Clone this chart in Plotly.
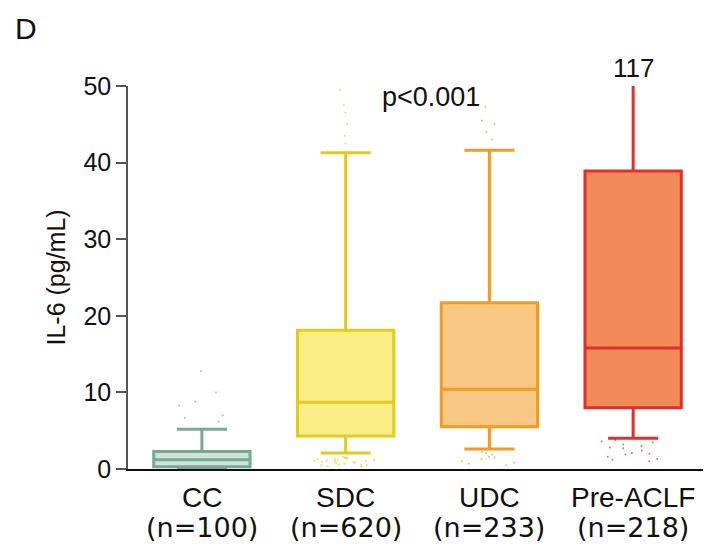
import plotly.graph_objects as go

categories = ["CC", "SDC", "UDC", "Pre-ACLF"]
n_labels = ["(n=100)", "(n=620)", "(n=233)", "(n=218)"]
q1 = [0.3, 4.3, 5.5, 8.0]
median = [1.2, 8.7, 10.4, 15.8]
q3 = [2.3, 18.1, 21.7, 38.9]
lower = [0.1, 2.1, 2.6, 4.0]
upper = [5.2, 41.3, 41.6, 117]

outliers = [
    [6.2, 6.7, 7.0, 8.3, 8.8, 10.0, 12.8],
    [0.3, 0.5, 0.6, 0.8, 0.9, 1.0, 1.1, 1.2, 1.3, 1.4, 1.5, 1.6, 0.4, 0.7, 1.0, 1.3,
     0.5, 0.9, 1.2, 1.5, 0.6, 0.8, 1.1, 1.4, 42.5, 43.5, 45.0, 46.5, 47.5, 49.5],
    [0.5, 0.8, 1.0, 1.3, 1.6, 1.9, 2.1, 2.3, 0.7, 1.5, 43.0, 44.0, 45.0, 45.5, 47.3],
    [1.0, 1.3, 1.6, 1.9, 2.1, 2.4, 2.7, 3.0, 3.2, 3.5, 3.8, 1.2, 2.0, 2.8, 3.6],
]

line_colors = ["#78a898", "#e3cb1c", "#f29b20", "#e0302b"]
fill_colors = ["#cfe3d8", "#fcee86", "#f9c784", "#f28a58"]

fig = go.Figure()

for i, c in enumerate(categories):
    fig.add_trace(go.Box(
        x=[c], q1=[q1[i]], median=[median[i]], q3=[q3[i]],
        lowerfence=[lower[i]], upperfence=[upper[i]],
        fillcolor=fill_colors[i], line=dict(color=line_colors[i], width=3),
        width=0.67, whiskerwidth=0.52, boxpoints=False, hoverinfo="skip",
        showlegend=False,
    ))
    fig.add_trace(go.Box(
        x=[c] * len(outliers[i]), y=outliers[i],
        boxpoints="all", jitter=1.0, pointpos=0,
        marker=dict(color=line_colors[i], size=2, opacity=0.7),
        fillcolor="rgba(0,0,0,0)", line=dict(color="rgba(0,0,0,0)", width=0),
        width=0.45, hoverinfo="skip", showlegend=False,
    ))

font_main = "Liberation Sans, Arial, sans-serif"

annotations = []
for i, c in enumerate(categories):
    annotations.append(dict(x=c, xref="x", y=0, yref="paper", yanchor="middle",
                            yshift=-28, text=c, showarrow=False,
                            font=dict(family=font_main, size=28, color="#111")))
    annotations.append(dict(x=c, xref="x", y=0, yref="paper", yanchor="middle",
                            yshift=-58, text=n_labels[i], showarrow=False,
                            font=dict(family="DejaVu Sans, Verdana, sans-serif", size=27, color="#111")))

annotations += [
    dict(x=0, xref="paper", xshift=-73, y=0.5, yref="paper", text="IL-6 (pg/mL)",
         textangle=-90, showarrow=False, xanchor="center", yanchor="middle",
         font=dict(family=font_main, size=25, color="#111")),
    dict(x=1.597, xref="x", y=48.6, yref="y", text="p<0.001", showarrow=False,
         font=dict(family=font_main, size=27, color="#111")),
    dict(x="Pre-ACLF", xref="x", y=1, yref="paper", yshift=18, text="117",
         showarrow=False, yanchor="middle",
         font=dict(family=font_main, size=26, color="#111")),
    dict(x=0, xref="paper", xshift=-102, y=1, yref="paper", yshift=58, text="D",
         showarrow=False, xanchor="center", yanchor="middle",
         font=dict(family=font_main, size=30, color="#111")),
]

fig.update_layout(
    width=715, height=551,
    margin=dict(l=128, r=12, t=86, b=82),
    paper_bgcolor="white", plot_bgcolor="white",
    boxmode="overlay",
    annotations=annotations,
    xaxis=dict(
        type="category", categoryorder="array", categoryarray=categories,
        range=[-0.514, 3.486], showticklabels=False, ticks="",
        showline=True, linecolor="#111", linewidth=2, showgrid=False, zeroline=False,
    ),
    yaxis=dict(
        range=[0, 50], tickvals=[0, 10, 20, 30, 40, 50], ticks="outside",
        ticklen=10, tickwidth=1.5, tickcolor="#555", showline=True,
        linecolor="#555", linewidth=1.5, showgrid=False, zeroline=False,
        tickfont=dict(family=font_main, size=25, color="#111"),
    ),
)

fig.write_html("out.html")
